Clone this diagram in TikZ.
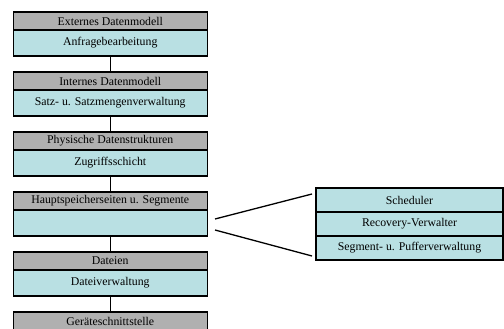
\documentclass[tikz,border=0pt]{standalone}
\usepackage{fontspec}
\setmainfont{Liberation Serif}
\definecolor{layergrey}{RGB}{176,176,176}
\definecolor{layercyan}{RGB}{185,224,227}
\begin{document}
\begin{tikzpicture}[x=1pt,y=-1pt,
  box/.style={draw=black,line width=1.3pt,minimum width=194pt,inner sep=0pt,
    font=\fontsize{11.8}{14}\selectfont,text=black},
  head/.style={box,fill=layergrey,minimum height=18pt},
  body/.style={box,fill=layercyan,minimum height=26pt},
  part/.style={box,fill=layercyan,minimum width=187pt,minimum height=24pt},
  link/.style={line width=1.3pt}]
\useasboundingbox (0,0) rectangle (504,329);
% layer stack: grey header with cyan body below
\node[head] (h1) at (110.25,21) {Externes Datenmodell};
\node[body] (b1) at (110.25,43) {Anfragebearbeitung};
\node[head] (h2) at (110.25,81) {Internes Datenmodell};
\node[body] (b2) at (110.25,103) {Satz- u. Satzmengenverwaltung};
\node[head] (h3) at (110.25,141) {Physische Datenstrukturen};
\node[body] (b3) at (110.25,163) {Zugriffsschicht};
\node[head] (h4) at (110.25,201) {Hauptspeicherseiten u. Segmente};
\node[body] (b4) at (110.25,223) {};
\node[head] (h5) at (110.25,261) {Dateien};
\node[body] (b5) at (110.25,283) {Dateiverwaltung};
\node[head] (h6) at (110.25,321) {Geräteschnittstelle};
% vertical links between layers
\draw[link] (b1.south) -- (h2.north);
\draw[link] (b2.south) -- (h3.north);
\draw[link] (b3.south) -- (h4.north);
\draw[link] (b4.south) -- (h5.north);
\draw[link] (b5.south) -- (h6.north);
% detail of the buffer layer
\node[part] (p1) at (409.5,200) {Scheduler};
\node[part] (p2) at (409.5,224) {Recovery-Verwalter};
\node[part] (p3) at (409.5,248) {Segment- u. Pufferverwaltung};
\coordinate (z1) at (215,219);
\coordinate (z2) at (215,230);
\coordinate (d1) at (312,194);
\coordinate (d2) at (312,256);
\draw[link] (z1) -- (d1);
\draw[link] (z2) -- (d2);
\end{tikzpicture}
\end{document}
